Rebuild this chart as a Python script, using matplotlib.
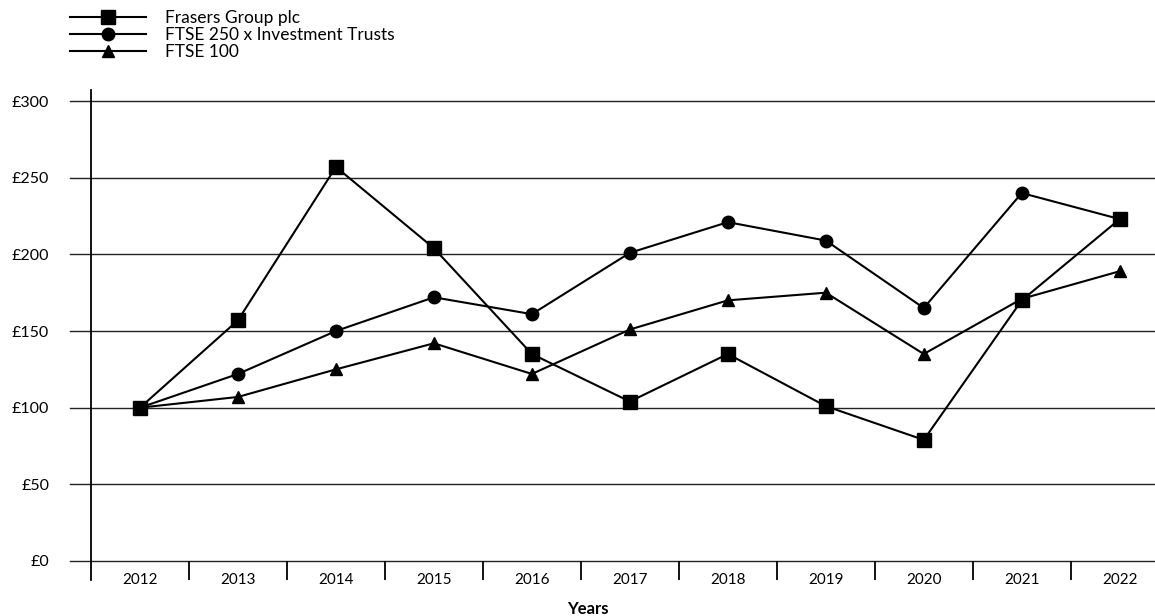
import numpy as np
import matplotlib
matplotlib.use("Agg")
import matplotlib.pyplot as plt

plt.rcParams['font.family'] = ['Lato', 'DejaVu Sans']

years = ['2012', '2013', '2014', '2015', '2016', '2017', '2018', '2019', '2020', '2021', '2022']
frasers = [100, 157, 257, 204, 135, 104, 135, 101, 79, 170, 223]
ftse250 = [100, 122, 150, 172, 161, 201, 221, 209, 165, 240, 223]
ftse100 = [100, 107, 125, 142, 122, 151, 170, 175, 135, 171, 189]
yticks = [0, 50, 100, 150, 200, 250, 300]
ylabels = ['£0', '£50', '£100', '£150', '£200', '£250', '£300']

fig = plt.figure(figsize=(11.55, 6.16), dpi=100)
W, H = 1155.0, 616.0
ax = fig.add_axes([70 / W, 1 - 561 / H, (1155 - 70) / W, (561 - 90) / H])

x = np.arange(len(years))
left = -0.5 - 21 / 98.0
ax.set_xlim(left, 10.36)
ax.set_ylim(0, 307.2)

# gridlines
for v in yticks:
    ax.axhline(v, color='#222222', lw=1.0, zorder=1, clip_on=False)

# vertical axis line, running a bit below the x axis
ax.plot([-0.5, -0.5], [307.2, -12.5], color='black', lw=1.3, clip_on=False, zorder=2)

ax.plot(x, frasers, color='black', lw=1.5, marker='s', ms=10, label='Frasers Group plc', zorder=4)
ax.plot(x, ftse250, color='black', lw=1.5, marker='o', ms=9, label='FTSE 250 x Investment Trusts', zorder=4)
ax.plot(x, ftse100, color='black', lw=1.5, marker='^', ms=8.5, label='FTSE 100', zorder=4)

for s in ax.spines.values():
    s.set_visible(False)

ax.set_yticks(yticks)
ax.set_yticklabels(ylabels, fontsize=11.5)
ax.tick_params(axis='y', length=0, pad=15)

ax.set_xticks(x)
ax.set_xticklabels(years, fontsize=11)
ax.set_xticks(np.arange(0.5, 10, 1), minor=True)
ax.tick_params(axis='x', which='major', length=0, pad=9)
ax.tick_params(axis='x', which='minor', length=14, width=1.3, direction='out', color='black')

fig.legend(loc='upper left', bbox_to_anchor=(70 / W, 1 - 10 / H), frameon=False,
           fontsize=12.5, handlelength=4.4, handletextpad=1.1, labelspacing=0.06,
           borderpad=0, borderaxespad=0)

fig.text(588 / W, 1 - 601 / H, 'Years', ha='center', va='top', fontsize=12, fontweight='bold')

fig.savefig('out.png', dpi=100)
